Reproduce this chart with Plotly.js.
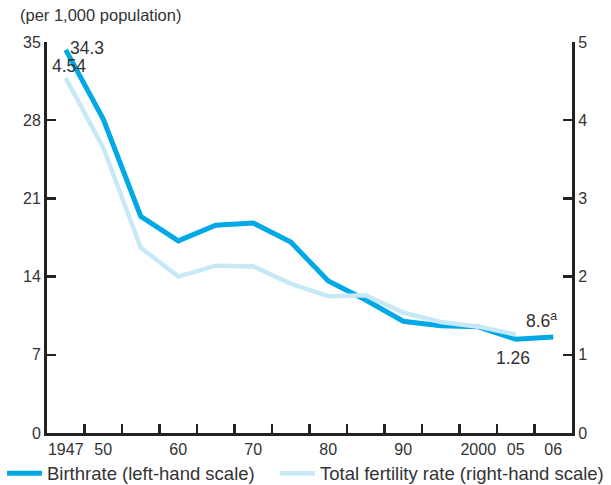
<!DOCTYPE html>
<html><head><meta charset="utf-8">
<script src="https://cdn.plot.ly/plotly-3.0.1.min.js"></script>
<style>body{margin:0;padding:0;background:#fff}#chart{width:611px;height:485px}</style>
</head><body><div id="chart"></div>
<script>
var years = ["1947","1950","1955","1960","1965","1970","1975","1980","1985","1990","1995","2000","2005","2006"];
var tickLabels = ["1947","50","","60","","70","","80","","90","","2000","05","06"];
var birthrate = [34.3,28.1,19.4,17.2,18.6,18.8,17.1,13.6,11.9,10.0,9.6,9.5,8.4,8.6];
var tfrYears = ["1947","1950","1955","1960","1965","1970","1975","1980","1985","1990","1995","2000","2005"];
var tfr = [4.54,3.65,2.37,2.00,2.14,2.13,1.91,1.75,1.76,1.54,1.42,1.36,1.26];

var blue = "#00a8e6", light = "#c6e8f7", txt = "#333333";
var font = "Liberation Sans, Arial, sans-serif";

var traces = [
  {x: tfrYears, y: tfr, yaxis: "y2", type: "scatter", mode: "lines",
   name: "Total fertility rate (right-hand scale)", legend: "legend2",
   line: {color: light, width: 4.5}},
  {x: years, y: birthrate, type: "scatter", mode: "lines",
   name: "Birthrate (left-hand scale)", legend: "legend",
   line: {color: blue, width: 5}}
];

var legendBase = {orientation: "h", xref: "container", yref: "paper", y: -0.104,
  xanchor: "left", yanchor: "middle", itemwidth: 35, borderwidth: 0,
  bgcolor: "rgba(0,0,0,0)", font: {size: 18.5, color: txt}};

var layout = {
  width: 611, height: 485,
  margin: {l: 47, r: 39, t: 42, b: 52, autoexpand: false},
  paper_bgcolor: "#fff", plot_bgcolor: "#fff",
  font: {family: font, size: 16, color: txt},
  showlegend: true,
  legend: Object.assign({}, legendBase, {x: 2 / 611}),
  legend2: Object.assign({}, legendBase, {x: 275 / 611}),
  xaxis: {type: "category", categoryorder: "array", categoryarray: years,
          tickmode: "array", tickvals: years, ticktext: tickLabels, tickangle: 0,
          range: [-0.5, 13.5], tickson: "boundaries", ticks: "inside", ticklen: 9, tickwidth: 2.5,
          tickcolor: "#222", showline: true, linecolor: "#222", linewidth: 3,
          showgrid: false, zeroline: false, tickfont: {size: 16, color: txt}},
  yaxis: {range: [0, 35], tickvals: [0,7,14,21,28,35], ticks: "inside", ticklen: 9, tickwidth: 2.5,
          tickcolor: "#222", showline: true, linecolor: "#222", linewidth: 3,
          showgrid: false, zeroline: false, tickfont: {size: 16, color: txt}},
  yaxis2: {range: [0, 5], overlaying: "y", side: "right", tickvals: [0,1,2,3,4,5],
           ticks: "inside", ticklen: 9, tickwidth: 2.5, tickcolor: "#222",
           showline: true, linecolor: "#222", linewidth: 3, showgrid: false, zeroline: false,
           tickfont: {size: 16, color: txt}},
  annotations: [
    {xref: "paper", yref: "paper", x: -0.056, y: 1.0, yshift: 27, xanchor: "left", yanchor: "middle",
     text: "(per 1,000 population)", showarrow: false, font: {size: 16.5, color: txt}},
    {x: 0, y: birthrate[0], xref: "x", yref: "y", text: String(birthrate[0]), showarrow: false,
     xanchor: "left", yanchor: "middle", xshift: 2, yshift: 2, font: {size: 17.5, color: txt}},
    {x: 0, y: tfr[0], xref: "x", yref: "y2", text: tfr[0].toFixed(2), showarrow: false,
     xanchor: "center", yanchor: "bottom", xshift: 3, yshift: 0, font: {size: 17.5, color: txt}},
    {x: 13, y: birthrate[13], xref: "x", yref: "y", text: birthrate[13].toFixed(1) + "<sup>a</sup>", showarrow: false,
     xanchor: "right", yanchor: "bottom", xshift: 6, yshift: 4, font: {size: 17.5, color: txt}},
    {x: 12, y: tfr[12], xref: "x", yref: "y2", text: tfr[12].toFixed(2), showarrow: false,
     xanchor: "center", yanchor: "top", xshift: -3, yshift: -12, font: {size: 17.5, color: txt}}
  ]
};
Plotly.newPlot("chart", traces, layout, {displayModeBar: false, staticPlot: true});
</script></body></html>
